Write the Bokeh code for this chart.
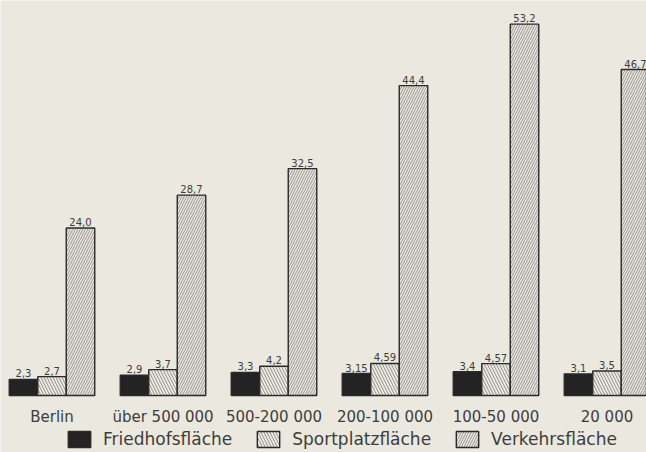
from bokeh.plotting import figure
from bokeh.models import Range1d, Legend, LegendItem, ColumnDataSource
from bokeh.transform import dodge
from bokeh.core.properties import value
from bokeh.embed import file_html
from bokeh.resources import INLINE

# ---- data ----
groups = ["Berlin", "über 500 000", "500-200 000", "200-100 000", "100-50 000", "20 000"]
friedhof = [2.3, 2.9, 3.3, 3.15, 3.4, 3.1]
sport = [2.7, 3.7, 4.2, 4.59, 4.57, 3.5]
verkehr = [24.0, 28.7, 32.5, 44.4, 53.2, 46.7]
series_names = ["Friedhofsfläche", "Sportplatzfläche", "Verkehrsfläche"]


def fmt(v):
    return f"{v}".replace(".", ",")


src = ColumnDataSource(dict(
    x=list(range(len(groups))),
    groups=groups,
    friedhof=friedhof,
    sport=sport,
    verkehr=verkehr,
    f_lab=[fmt(v) for v in friedhof],
    s_lab=[fmt(v) for v in sport],
    v_lab=[fmt(v) for v in verkehr],
))

# ---- layout ----
W, H = 646, 452
PX_X = 111.0          # pixels per group
X0 = 51.5             # pixel position of first group centre
PX_Y = 6.98           # pixels per unit
Y0 = H - 395.0        # pixels from bottom to zero line
BG = "#ebe8df"
INK = "#2a2a2a"
TXT = "#3d3d3d"
FONT = "DejaVu Sans"

p = figure(width=W, height=H, output_backend="svg", toolbar_location=None,
           x_range=Range1d(-X0 / PX_X, (W - X0) / PX_X),
           y_range=Range1d(-Y0 / PX_Y, (H - Y0) / PX_Y),
           x_axis_location=None, y_axis_location=None,
           min_border=0, background_fill_color=BG, border_fill_color=BG,
           outline_line_color=None)
p.grid.visible = False

bw = 28.5 / PX_X
offs = [-bw, 0.0, bw]

r1 = p.vbar(x=dodge("x", offs[0], range=p.x_range), top="friedhof", bottom=0, width=bw,
            source=src, fill_color="#232323", line_color=INK, line_width=1.4)
r2 = p.vbar(x=dodge("x", offs[1], range=p.x_range), top="sport", bottom=0, width=bw,
            source=src, fill_color=BG, line_color=INK, line_width=1.4,
            hatch_pattern="\\", hatch_scale=6, hatch_weight=0.7, hatch_color="#707070")
r3 = p.vbar(x=dodge("x", offs[2], range=p.x_range), top="verkehr", bottom=0, width=bw,
            source=src, fill_color=BG, line_color=INK, line_width=1.4,
            hatch_pattern="/", hatch_scale=5, hatch_weight=0.7, hatch_color="#707070")

for off, col, lab in zip(offs, ["friedhof", "sport", "verkehr"], ["f_lab", "s_lab", "v_lab"]):
    p.text(x=dodge("x", off, range=p.x_range), y=col, text=lab, source=src,
           text_align="center", text_baseline="bottom", y_offset=-2,
           text_font=value(FONT), text_font_size="10px", text_color=TXT)

p.text(x="x", y=0, text="groups", source=src, text_align="center",
       text_baseline="alphabetic", y_offset=21,
       text_font=value(FONT), text_font_size="15px", text_color=TXT)

legend = Legend(items=[LegendItem(label=series_names[0], renderers=[r1]),
                       LegendItem(label=series_names[1], renderers=[r2]),
                       LegendItem(label=series_names[2], renderers=[r3])],
                orientation="horizontal", location=(65, 3),
                padding=0, margin=0, spacing=22,
                glyph_width=28, glyph_height=20, label_height=20,
                label_standoff=10, label_text_font=FONT,
                label_text_font_size="17px", label_text_color=TXT,
                border_line_color=None, background_fill_alpha=0)
p.add_layout(legend, "center")

open("out.html", "w").write(file_html(p, INLINE))
